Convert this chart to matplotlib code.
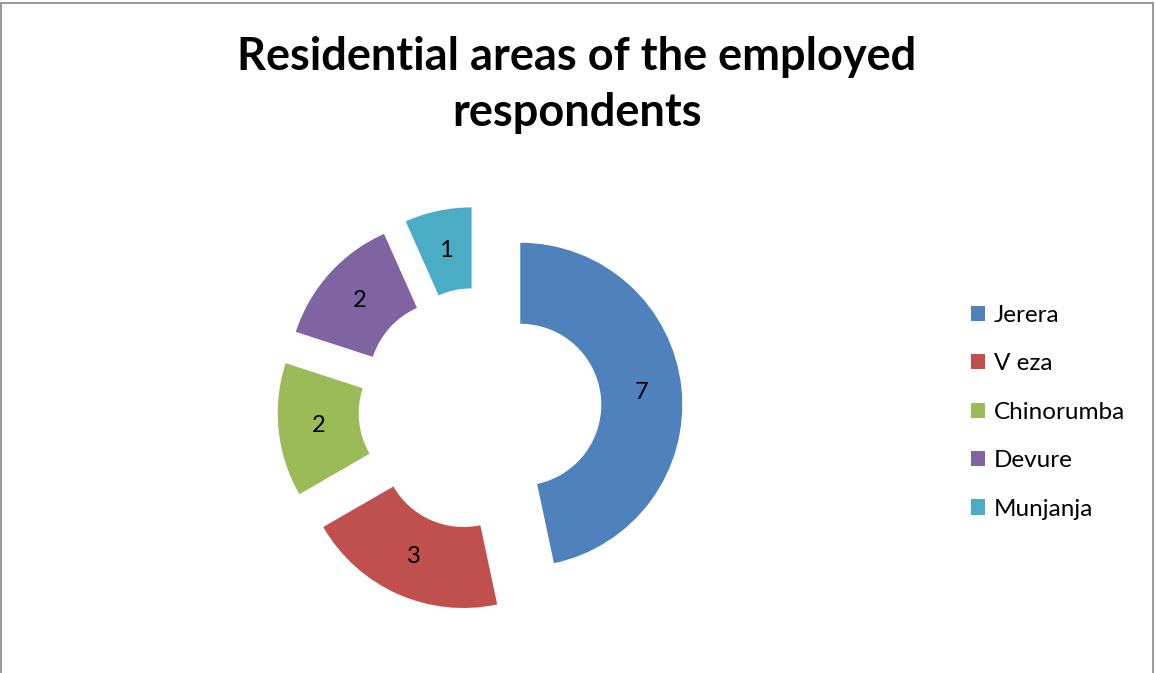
import matplotlib
matplotlib.use("Agg")
import matplotlib.pyplot as plt
from matplotlib.patches import Rectangle, Patch

areas = ["Jerera", "V eza", "Chinorumba", "Devure", "Munjanja"]
counts = [7, 3, 2, 2, 1]
colors = ["#4F81BD", "#C0504D", "#9BBB59", "#8064A2", "#4BACC6"]
title = "Residential areas of the employed\nrespondents"

W, H = 1155, 673
fig = plt.figure(figsize=(W / 100, H / 100), dpi=100)
fig.patch.set_facecolor("white")

# chart border
fig.patches.append(Rectangle((1 / W, -0.02), 1152 / W, 1 - 3 / H + 0.02,
                             transform=fig.transFigure, fill=False,
                             edgecolor="#868686", linewidth=1.2))

# donut axes: 1 data unit = 162 px, centred at (480, 409) from top-left
R = 162
cx, cy = 480, H - 409
half = 1.5 * R
ax = fig.add_axes([(cx - half) / W, (cy - half) / H, 2 * half / W, 2 * half / H])

total = sum(counts)
wedges, texts, autotexts = ax.pie(
    counts, colors=colors, startangle=90, counterclock=False,
    explode=[0.25] * len(counts), radius=1,
    wedgeprops=dict(width=0.5, edgecolor="none"),
    autopct=lambda p: f"{round(p * total / 100)}", pctdistance=0.75,
    textprops=dict(fontsize=17, color="black", family="Lato"),
)
ax.set_xlim(-1.5, 1.5)
ax.set_ylim(-1.5, 1.5)
ax.set_aspect("equal")
ax.axis("off")

fig.text(577 / W, 1 - 85 / H, title, ha="center", va="center",
         fontsize=32.5, fontweight="bold", family="Lato", linespacing=1.4)

handles = [Patch(facecolor=c, edgecolor="none") for c in colors]
leg = fig.legend(handles, areas, loc="upper left",
                 bbox_to_anchor=(949 / W, 1 - 283 / H),
                 frameon=False, handlelength=0.6, handleheight=0.6,
                 handletextpad=0.35, labelspacing=1.13,
                 prop=dict(family="Lato", size=17.5))

fig.savefig("out.png", dpi=100, facecolor="white")
